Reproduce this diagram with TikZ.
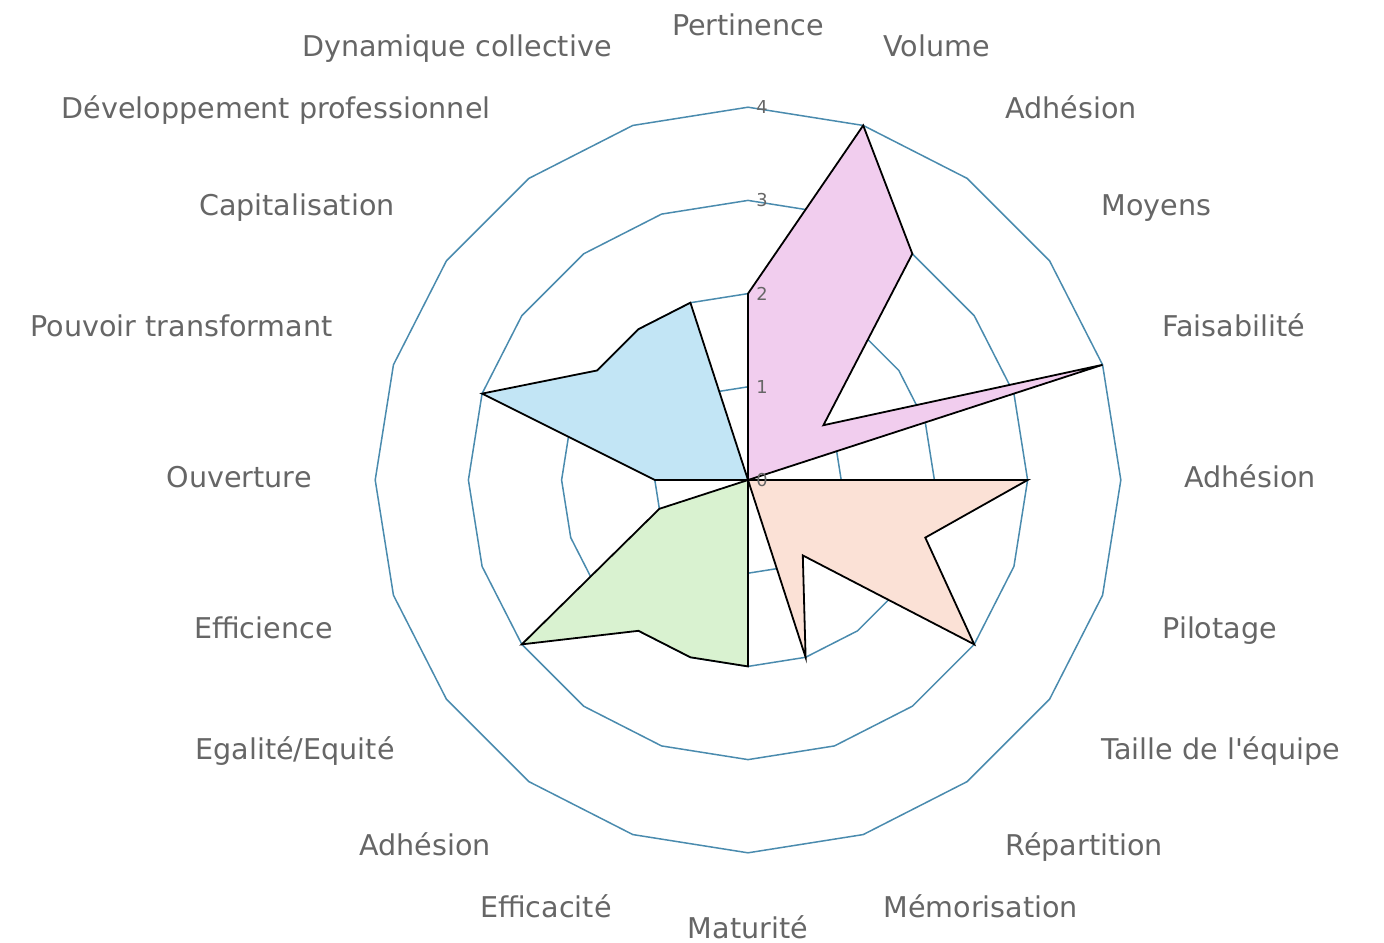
\documentclass[tikz,border=0pt]{standalone}
\usepackage{fontspec}
\setmainfont{DejaVu Sans}
\definecolor{ringc}{HTML}{4A8BAE}
\definecolor{labc}{HTML}{666666}
\definecolor{fpink}{HTML}{F1CDEE}
\definecolor{fblue}{HTML}{C2E5F5}
\definecolor{fpeach}{HTML}{FBE1D6}
\definecolor{fgreen}{HTML}{D9F2D0}
\newcommand{\sq}{\XeTeXglyph\XeTeXcharglyph"0027\relax}
\begin{document}
\begin{tikzpicture}[x=0.5pt,y=-0.5pt,
  ring/.style={draw=ringc,line width=0.75pt},
  area/.style={draw=black,line width=0.9pt,line join=miter},
  axlab/.style={text=labc,font=\fontsize{14.3}{17}\selectfont,inner sep=0pt},
  ticklab/.style={text=labc,font=\fontsize{8.9}{10}\selectfont,inner sep=0pt,anchor=west}]
\useasboundingbox (0,0) rectangle (1384,942);
\begin{scope}[shift={(748,480)}]
  % grid rings
  \foreach \r in {1,2,3,4}{
    \draw[ring] (-90:\r*93.2) \foreach \i in {1,...,19}{ -- (\i*18-90:\r*93.2)} -- cycle;
  }
  % data areas
  \coordinate (O) at (0,0);
  \draw[area,fill=fpink] (O) -- (-90:2*93.2) -- (-72:4*93.2) -- (-54:3*93.2) -- (-36:1*93.2) -- (-18:4*93.2) -- cycle;
  \draw[area,fill=fpeach] (O) -- (0:3*93.2) -- (18:2*93.2) -- (36:3*93.2) -- (54:1*93.2) -- (72:2*93.2) -- cycle;
  \draw[area,fill=fgreen] (O) -- (90:2*93.2) -- (108:2*93.2) -- (126:2*93.2) -- (144:3*93.2) -- (162:1*93.2) -- cycle;
  \draw[area,fill=fblue] (O) -- (180:1*93.2) -- (198:3*93.2) -- (216:2*93.2) -- (234:2*93.2) -- (252:2*93.2) -- cycle;
  % tick labels
  \foreach \r in {0,1,2,3,4}{
    \node[ticklab] (t\r) at (8,-\r*93.2) {\r};
  }
\end{scope}
% axis labels
\node[axlab,anchor=base] (l1) at (748,35) {Pertinence};
\node[axlab,anchor=base west] (l2) at (883,56) {Volume};
\node[axlab,anchor=base west] (l3) at (1005,118) {Adhésion};
\node[axlab,anchor=base west] (l4) at (1101,215) {Moyens};
\node[axlab,anchor=base west] (l5) at (1162,336) {Faisabilité};
\node[axlab,anchor=base west] (l6) at (1184,487) {Adhésion};
\node[axlab,anchor=base west] (l7) at (1162,638) {Pilotage};
\node[axlab,anchor=base west] (l8) at (1101,759) {Taille de l\sq équipe};
\node[axlab,anchor=base west] (l9) at (1005,855) {Répartition};
\node[axlab,anchor=base west] (l10) at (883,917) {Mémorisation};
\node[axlab,anchor=base] (l11) at (748,938) {Maturité};
\node[axlab,anchor=base east] (l12) at (612,917) {Efficacité};
\node[axlab,anchor=base east] (l13) at (491,855) {Adhésion};
\node[axlab,anchor=base east] (l14) at (395,759) {Egalité/Equité};
\node[axlab,anchor=base east] (l15) at (333,638) {Efficience};
\node[axlab,anchor=base east] (l16) at (312,487) {Ouverture};
\node[axlab,anchor=base east] (l17) at (333,336) {Pouvoir transformant};
\node[axlab,anchor=base east] (l18) at (395,215) {Capitalisation};
\node[axlab,anchor=base east] (l19) at (491,118) {Développement professionnel};
\node[axlab,anchor=base east] (l20) at (612,56) {Dynamique collective};
\end{tikzpicture}
\end{document}
